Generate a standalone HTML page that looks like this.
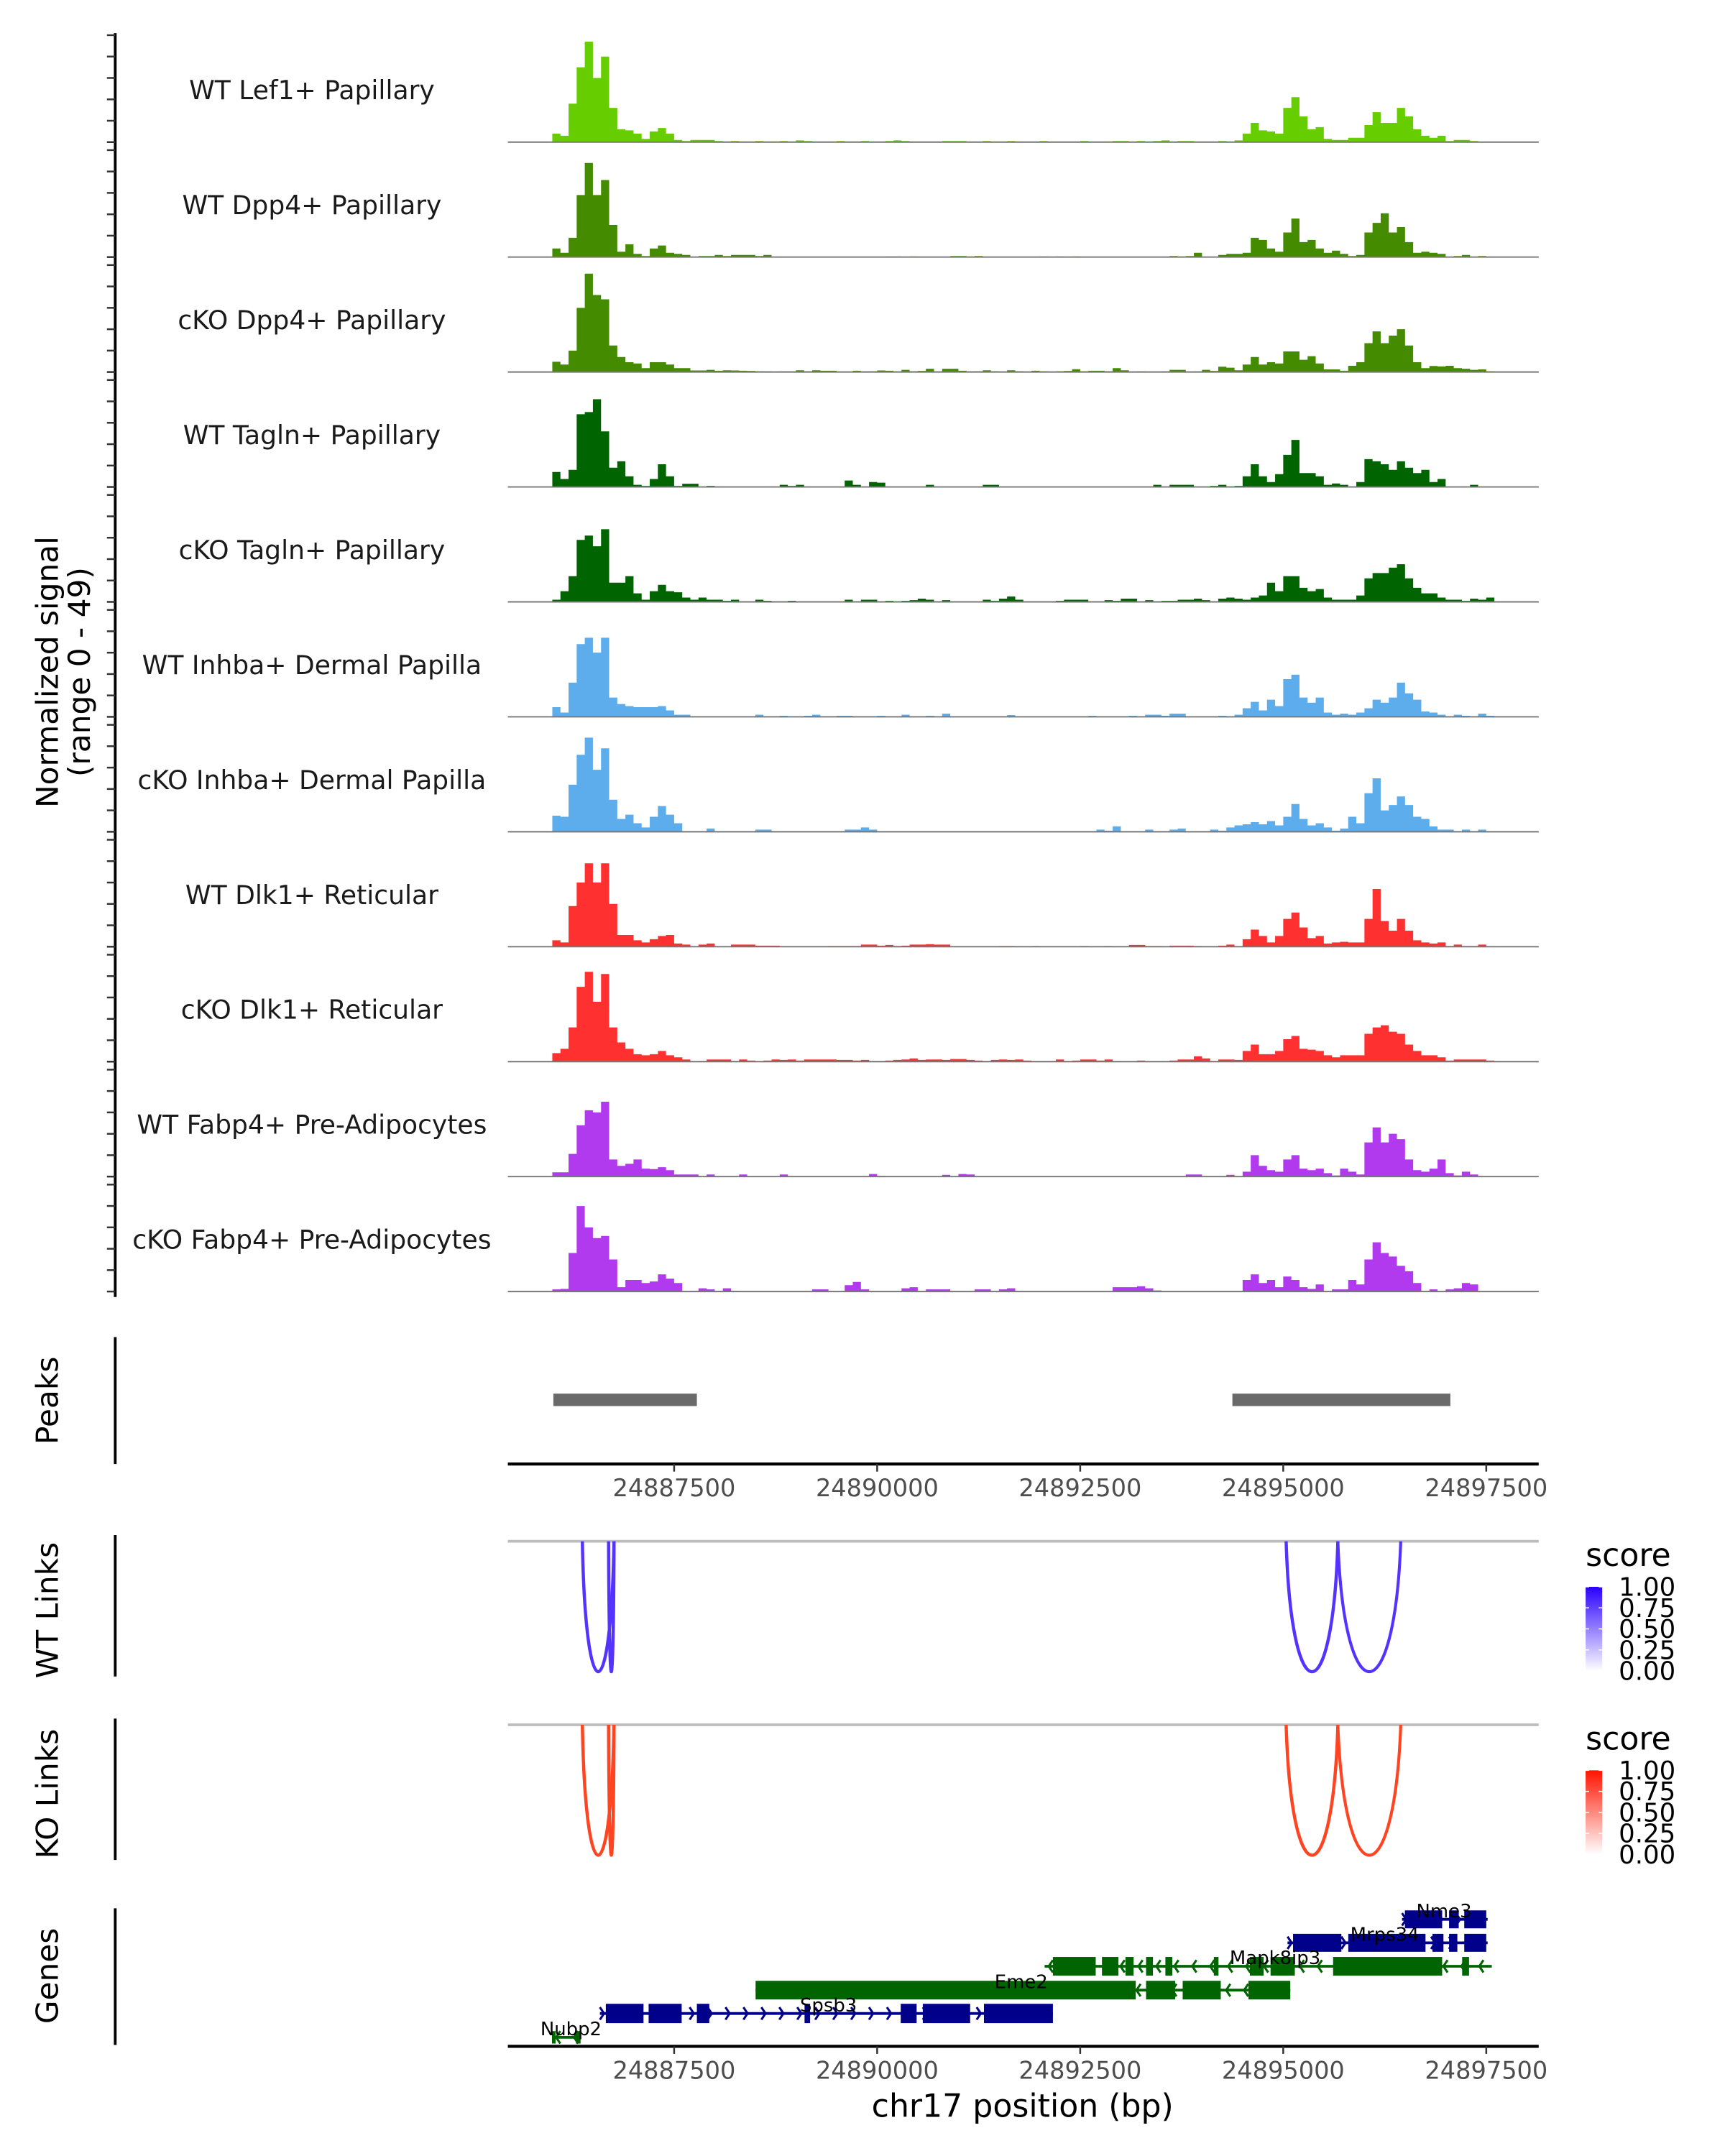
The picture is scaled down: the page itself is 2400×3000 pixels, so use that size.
<!DOCTYPE html>
<html><head><meta charset="utf-8"><title>Coverage plot chr17</title>
<style>
html,body{margin:0;padding:0;background:#fff;}
svg{display:block;font-family:"DejaVu Sans","Liberation Sans",sans-serif;}
</style></head>
<body>
<svg id="fig" xmlns="http://www.w3.org/2000/svg" width="2400" height="3000" viewBox="0 0 1250 1562.5">
<rect x="0" y="0" width="1250" height="1562.5" fill="#fff"/>
<g id="tracks"></g>
<g id="yaxis"></g>
<text transform="translate(42,487) rotate(-90)" text-anchor="middle" font-size="22" fill="#000">Normalized signal</text>
<text transform="translate(65,487) rotate(-90)" text-anchor="middle" font-size="22" fill="#000">(range 0 - 49)</text>
<g id="peaks"></g>
<g id="links"></g>
<g id="genes"></g>
<defs>
<linearGradient id="gWT" x1="0" y1="1" x2="0" y2="0"><stop offset="0" stop-color="#ffffff"/><stop offset="1" stop-color="#2a00ff"/></linearGradient>
<linearGradient id="gKO" x1="0" y1="1" x2="0" y2="0"><stop offset="0" stop-color="#ffffff"/><stop offset="1" stop-color="#ff1400"/></linearGradient>
</defs>
</svg>
<script>
// ---------- data ----------
const binStart = 24886000;
const binSize = 100;
const trackNames = ["WT Lef1+ Papillary","WT Dpp4+ Papillary","cKO Dpp4+ Papillary","WT Tagln+ Papillary","cKO Tagln+ Papillary","WT Inhba+ Dermal Papilla","cKO Inhba+ Dermal Papilla","WT Dlk1+ Reticular","cKO Dlk1+ Reticular","WT Fabp4+ Pre-Adipocytes","cKO Fabp4+ Pre-Adipocytes"];
const trackColors = ["#66cd00","#458b00","#458b00","#006400","#006400","#5dadec","#5dadec","#ff3030","#ff3030","#b23aee","#b23aee"];
const sigLef1WT = [4,3,18,35,47,30,40,16,6,5.5, 4,1.5,5,6.6,4,1,0.5,1,1,1, 0.5,0.3,0.5,0.3,0.3,0.5,0.3,0.3,0.5,0.3, 0.8,0.5,0.3,0.3,0.3,0.5,0.3,0.3,0.5,0.3, 0.3,0.5,0.8,0.5,0.3,0.3,0.3,0.3,0.5,0.5, 0.5,0.3,0.3,0.5,0.3,0.3,0.5,0.3,0.3,0.3, 0.5,0.3,0.3,0.3,0.3,0.5,0.3,0.3,0.3,0.5, 0.5,0.3,0.5,0.3,0.5,0.8,0.3,0.5,0.5,0.3, 0.3,0.3,0.5,0.3,0.8,4,9,5.5,5,4, 16,21,12,6,7,1.5,1,1,2,2, 8,14,9,9,16,12,6,3,2,3, 0.5,1,1,0.5,0,0];
const sigDpp4WT = [4,2,9,29,44,29,36,15,2.5,6, 1.5,0.5,4,5.4,2,1.5,1,0,0.5,0.5, 1,0.5,1,1,1,0.5,1,0,0,0, 0,0,0,0,0,0,0,0,0,0, 0,0.3,0.3,0,0.3,0,0,0,0,0.5, 0.5,0.3,0.5,0,0,0,0,0,0,0, 0.3,0,0.3,0,0.3,0,0,0,0,0, 0,0,0,0,0,0,0.5,0.3,0.5,2, 0,0,1,1.5,1.5,2,9,8,4,2.5, 11.5,18,7,8,4,2,3,1.5,0.5,1, 11.5,16,20.5,11.5,14,7,2,2.5,2,1.5, 0,0.5,1,0,0.5,0];
const sigDpp4KO = [4.8,3.5,10,30,46,36,34,12.4,7,4.6, 4,1.8,4.6,4.6,3.5,1.8,1.8,0.7,0.7,1, 0.6,0.8,0.7,0.6,0.5,0.4,0.3,0.2,0.3,0.3, 0.8,0.4,0.8,0.6,0.6,0.2,0,0.6,0.3,0.4, 0.7,0.6,0.3,1,0.4,0.5,1.5,0.3,1.5,1.5, 0.6,0.3,0.4,0.8,0.4,0.2,0.8,0.4,0.2,0.6, 0.4,0.1,0.4,0.5,1.3,0.4,0.6,0.6,0.4,1.8, 0.8,0.2,0.3,0.1,0,0.3,1,1,0.2,0.3, 1,0.5,2.5,2,0.8,3.5,7,3.5,4.6,4, 9.6,9.6,5.7,7.4,4,1.2,1.2,0.6,2.9,4.6, 13.5,19,13.5,17,20,12.4,4.6,1.8,2.8,2.6, 2.9,1.8,1.5,1,1.2,0.4];
const sigTaglnWT = [7,3.7,8,34,35,41,26,9,12,5, 1,0.5,3.7,10.6,5,0.5,1.5,1.5,0,0.5, 0,0,0,0,0,0,0,0,1,0.5, 1,0,0,0,0,0,3,1,0,2.3, 2,0,0,0,0,0,1,0,0,0, 0,0,0,1,1,0,0,0,0,0, 0,0,0,0,0,0,0,0,0,0, 0,0,0,0,1,0,1,1,1,0, 0,0.5,1,0,0.5,5,10.6,5,2.3,6, 15,22,6.5,6.5,5,1,1.6,1,0,2.3, 13,12,10.6,8,12,9,6.5,8,2.3,3.7, 0,0,0,1,0,0];
const sigTaglnKO = [1,5,12,29,31,26,34,9,9,12, 4,1,5,8,5,4.5,2,1,2,1, 1,0.5,1,0.3,0.3,1,0.5,0.3,0,0.5, 0.2,0.2,0.2,0.2,0.2,0.3,1,0.3,1,1, 0.3,0.5,0.3,0.5,0.8,1.5,1,0.3,0.8,0.3, 0,0,0,1,0.5,1.5,2.5,1,0,0, 0,0,0.5,1,1,1,0.3,0.3,0.8,0.5, 1.5,1.5,0.3,0.8,0.3,0.5,0.5,1,1,1.5, 0.8,0.3,1.5,2,1.5,1,2,3,9,5, 12,12,6.6,5,6,2,1,1,1,3, 11,13.5,13.5,16,17.6,11,6.6,4,4,2, 1,1,0.5,1.5,1,2];
const sigInhbaWT = [4.5,2,16,34,37,30,37,9,6,5, 4.5,4.5,4.5,5,3,1,1,0,0,0.3, 0,0,0,0,0,1,0.3,0,0.5,0, 0,0.5,1,0,0,0.5,0.5,0,0,0, 0.5,0,0,1,0,0,0.5,0,1.5,0.3, 0,0,0,0,0,0,0.8,0,0,0, 0,0,0,0,0,0,0.5,0,0,0, 0,0.5,0,1,1,0.5,1.5,1.5,0,0, 0,0,0.5,0,1,4,7,3,8,5, 17.6,19.7,9,6.6,9,2,1,1.5,1,2, 4,8,6.6,9,16,11,8,2.5,2,1, 0.3,1,0.5,0.3,1.5,0.5];
const sigInhbaKO = [7.5,7,22,36,44,29,39,15,6,8, 4,2,7,12,8,4,0,0,0,1.5, 0,0,0,0,0,1,1,0,0,0, 0,0,0,0,0,0,1,1,2,1, 0,0,0,0,0,0,0,0,0,0, 0,0,0,0,0,0,0,0,0,0, 0,0,0,0,0,0,0,1,0.5,2.5, 0,0,0,1,0,0,1,1.5,0,0, 0,1,0.5,2,3,3.5,4.5,3.5,5,3, 7,13,6,3,4,2,0.5,1.5,7,4, 18,25,10,12.5,16.5,12.5,7,6,2.5,1, 1,0,1,0,1,0];
const sigDlk1WT = [3,2,19,30,39,30,39,20,5.5,5.5, 3,2,3.5,5,5.5,1.5,1,0,1,1.5, 0,0,1,1,1,0.5,0.5,0.5,0,0, 0,0,0,0,0.3,0.3,0.3,0.3,1,1, 0.5,0.8,0.3,0.5,1,1,1.2,1,1,0, 0,0,0,0,0,0.3,0.3,0,0,0.3, 0,0,0,0,0,0.3,0,0,0.3,0, 0,0.8,0.8,0.3,0.3,0,0.5,0.5,0.5,0.3, 0,0,0.5,1,0,3.5,8,5,2,5, 13,16,9,4,5,1.5,2,2.3,2,2, 13,27,12,7.5,13,7.5,3,2,1.5,2, 0.3,1,0.3,0.3,1,0];
const sigDlk1KO = [4,6,16,35,42,28,41,16,9,6, 3.5,3,3.5,5,3,2,1,0,0.3,1, 1,1,0.3,1,0.5,0,0.5,1,0.8,1, 0.5,1,1,1,1,0.8,0.8,0.5,0.8,0.3, 0.3,0.5,0.8,1,1.5,0.8,1,1,0.8,1.2, 1.2,0.8,0.5,0.3,0.8,1,0.8,1,0.5,0.3, 0.3,0.3,1,0.3,0.5,1,1,0.5,1,0.3, 0,0,0.5,0,0,0,0.5,1,1,2.5, 1.5,0.3,1,1,0.8,5,8,3.5,3.5,5, 10.5,12,6,5.6,5,3,2,3,3,3, 13,16,17,14,13,8,5,3,3,2, 0.5,1,1,1,1,0.5];
const sigFabp4WT = [2,2,10.6,24,31,30,35,8,5,6, 8,3.7,3.5,4.4,3,1,1,1,0,1, 0,0,0,1,0,0,0,0,1,0, 0,0,0,0,0,0,0,0,0,1.2, 0.3,0,0,0,0,0,0,0,0.8,0, 1.2,1,0,0,0,0,0,0,0,0, 0,0,0,0,0,0,0,0,0,0, 0,0,0,0,0,0,0,0,1,1, 0,0,0,0.8,0,2.3,10,5,3,2.3, 8,10,3.7,3,3.7,1.6,0.5,3.7,2.3,1, 16,23,16,20,17.5,8,3,2.3,3.7,8, 1.6,0.5,2.3,1,0,0];
const sigFabp4KO = [1,1.2,18,40,30,25,26,15,2,5.4, 5.4,4,4.7,8,6,4,0,0.3,1.5,1, 0.3,1.5,0.3,0,0,0,0,0,0,0, 0,0,1,1,0,0,3,4.5,1,0, 0,0,0,1.5,2,0,1,1,1,0, 0,0,1,1,0,1,1.5,0,0,0, 0,0,0,0,0,0,0,0,0,2, 2,2,2.5,1.5,0.5,0,0,0,0,0, 0,0,0,0,0,5.4,8,4,5.4,2, 7,5.4,2,1.2,3.3,0,1,1,5.4,3.3, 15,23,18,16.4,12,9.5,4,0,1,0, 1,1.5,4,3.3,0,0];
const trackSignals = [sigLef1WT,sigDpp4WT,sigDpp4KO,sigTaglnWT,sigTaglnKO,sigInhbaWT,sigInhbaKO,sigDlk1WT,sigDlk1KO,sigFabp4WT,sigFabp4KO];
const yTickValues = [0,10,20,30,40,50];
const xTickValues = [24887500,24890000,24892500,24895000,24897500];
const xTickLabels = ["24887500","24890000","24892500","24895000","24897500"];
const peakStarts = [24886013,24894374];
const peakEnds = [24887780,24897058];
const linkStarts = [24886370,24886693,24895036,24895673];
const linkEnds = [24886760,24886760,24895673,24896447];
const wtLinkScores = [0.95,0.95,0.95,0.85];
const koLinkScores = [0.95,0.95,0.95,0.85];
const legendValues = [0,0.25,0.5,0.75,1];
const legendLabels = ["0.00","0.25","0.50","0.75","1.00"];
const geneNames = ["Nme3","Mrps34","Mapk8ip3","Eme2","Spsb3","Nubp2"];
const geneStrands = ["+","+","-","-","+","-"];
const geneStarts = [24896463,24895053,24892062,24888503,24886586,24885996];
const geneEnds = [24897517,24897517,24897568,24895087,24892164,24886348];
const geneExons = [
 [[24896498,24896957],[24897042,24897161],[24897229,24897500]],
 [[24895121,24895716],[24895801,24896752],[24896837,24896973],[24897042,24897144],[24897229,24897500]],
 [[24892164,24892691],[24892768,24892971],[24893057,24893158],[24893311,24893396],[24893549,24893634],[24894146,24894203],[24894589,24894759],[24894844,24895143],[24895614,24896957],[24897203,24897288]],
 [[24888503,24893184],[24893311,24893670],[24893762,24894231],[24894572,24895087]],
 [[24886659,24887123],[24887186,24887593],[24887780,24887933],[24889106,24889174],[24890290,24890486],[24890562,24891145],[24891315,24892164]],
 [[24885996,24886040],[24886290,24886348]]
];
const geneLabelPos = [24896980,24896250,24894900,24891773,24889400,24886230];

// ---------- layout helpers ----------
const NS = "http://www.w3.org/2000/svg";
const xs = bp => 488.5 + (bp - 24887500) * 0.05885;
const PX_PER_UNIT = 1.55;
const baseline = k => 103 + 83.3 * k;
function mk(tag, attrs, parent){ const e=document.createElementNS(NS,tag); for(const k in attrs) e.setAttribute(k,attrs[k]); parent.appendChild(e); return e; }

// ---------- signal tracks ----------
const gT = document.getElementById('tracks');
trackSignals.forEach((vals,k)=>{
  const b = baseline(k);
  let d = `M${xs(binStart).toFixed(2)},${b}`;
  vals.forEach((v,i)=>{
    const x0 = xs(binStart + i*binSize), x1 = xs(binStart + (i+1)*binSize);
    const y = b - v*PX_PER_UNIT;
    d += `L${x0.toFixed(2)},${y.toFixed(2)}L${x1.toFixed(2)},${y.toFixed(2)}`;
  });
  d += `L${xs(binStart + vals.length*binSize).toFixed(2)},${b}Z`;
  const area = mk('path',{d:d, fill:trackColors[k], stroke:'none'},gT);
  
  
  const bl = mk('line',{x1:368,x2:1115,y1:b,y2:b,stroke:'#777','stroke-width':1},gT);
  
  
  const lab = mk('text',{x:226,y:b-31,'text-anchor':'middle','font-size':18.8,fill:'#1a1a1a'},gT);
  lab.textContent = trackNames[k];
  
  
});

// ---------- y axis ----------
const gY = document.getElementById('yaxis');
const yl = mk('line',{x1:83.5,x2:83.5,y1:24,y2:940,stroke:'#000','stroke-width':2},gY);


trackSignals.forEach((v,k)=>{
  const b = baseline(k);
  yTickValues.forEach(t=>{
    const y = b - t*PX_PER_UNIT;
    const tk = mk('line',{x1:77.5,x2:83.5,y1:y,y2:y,stroke:'#333','stroke-width':1.3},gY);
    
    
  });
});

// ---------- x axis helper ----------
function xAxis(parent, yLine, name){
  const al = mk('line',{x1:368,x2:1115,y1:yLine,y2:yLine,stroke:'#000','stroke-width':2.2},parent);
  
  
  xTickValues.forEach((t,i)=>{
    const x = xs(t);
    const tk = mk('line',{x1:x,x2:x,y1:yLine,y2:yLine+5.5,stroke:'#333','stroke-width':1.3},parent);
    
    
    const tl = mk('text',{x:x,y:yLine+23.5,'text-anchor':'middle','font-size':17.5,fill:'#4d4d4d'},parent);
    tl.textContent = xTickLabels[i];
    
    
  });
}

// ---------- peaks ----------
const gP = document.getElementById('peaks');
const pAx = mk('line',{x1:83.5,x2:83.5,y1:969,y2:1061,stroke:'#000','stroke-width':2},gP);


const pT = mk('text',{transform:'translate(42,1015) rotate(-90)','text-anchor':'middle','font-size':22,fill:'#000'},gP);
pT.textContent = 'Peaks';


peakStarts.forEach((s,i)=>{
  const r = mk('rect',{x:xs(s),y:1010,width:xs(peakEnds[i])-xs(s),height:9,fill:'#6a6a6a'},gP);
  
  
});
xAxis(gP, 1061, 'peaks-x-axis');

// ---------- links ----------
const gL = document.getElementById('links');
function linkPanel(top, title, scores, color, grad, tag){
  const depth = 94.5;
  const ax = mk('line',{x1:83.5,x2:83.5,y1:top-4.5,y2:top+98,stroke:'#000','stroke-width':2},gL);
  
  
  const t = mk('text',{transform:`translate(42,${top+50}) rotate(-90)`,'text-anchor':'middle','font-size':22,fill:'#000'},gL);
  t.textContent = title;
  
  
  const gl = mk('line',{x1:368,x2:1115,y1:top,y2:top,stroke:'#bdbdbd','stroke-width':2},gL);
  
  
  linkStarts.forEach((s,i)=>{
    const x1 = xs(s), x2 = xs(linkEnds[i]), w = x2-x1;
    const cy = top + depth*4/3;
    const d = `M${x1},${top-6} L${x1},${top} C${x1+w*0.1},${cy} ${x2-w*0.1},${cy} ${x2},${top} L${x2},${top-6}`;
    const p = mk('path',{d:d,fill:'none',stroke:color,'stroke-width':0.8+scores[i]*1.6,'clip-path':`url(#clip-${tag})`},gL);
    
    
  });
  const cp = mk('clipPath',{id:'clip-'+tag},gL);
  mk('rect',{x:360,y:top,width:760,height:120},cp);
  const lt = mk('text',{x:1149,y:top+18,'font-size':23,fill:'#000'},gL);
  lt.textContent = 'score';
  
  
  const barTop = top+33, barH = 61;
  const bar = mk('rect',{x:1149,y:barTop,width:12,height:barH,fill:`url(#${grad})`},gL);
  
  
  legendValues.forEach((v,i)=>{
    const y = barTop + barH*(1-v);
    mk('line',{x1:1149,x2:1151.5,y1:y,y2:y,stroke:'#fff','stroke-width':0.8},gL);
    mk('line',{x1:1158.5,x2:1161,y1:y,y2:y,stroke:'#fff','stroke-width':0.8},gL);
    const tx = mk('text',{x:1173,y:y+6.5,'font-size':18.5,fill:'#000'},gL);
    tx.textContent = legendLabels[i];
    
    
  });
}
linkPanel(1117,'WT Links',wtLinkScores,'#5533ff','gWT','wt-links');
linkPanel(1250,'KO Links',koLinkScores,'#ff4422','gKO','ko-links');

// ---------- genes ----------
const gG = document.getElementById('genes');
const gAx = mk('line',{x1:83.5,x2:83.5,y1:1383,y2:1482,stroke:'#000','stroke-width':2},gG);


const gTt = mk('text',{transform:'translate(42,1432) rotate(-90)','text-anchor':'middle','font-size':22,fill:'#000'},gG);
gTt.textContent = 'Genes';


const rowY = [1391,1408,1425,1442.3,1459.2,1476.5];
const rowH = [13,13,13.5,13.5,14,9];
const labels = [];
geneNames.forEach((g,i)=>{
  const col = geneStrands[i]==='+' ? '#00008b' : '#006400';
  const cy = rowY[i];
  const grp = mk('g',{},gG);
  
  
  const x1 = xs(geneStarts[i]), x2 = xs(geneEnds[i]);
  mk('line',{x1:x1,x2:x2,y1:cy,y2:cy,stroke:col,'stroke-width':2},grp);
  for(let x = x1+3; x < x2-1; x += 13){
    const dx = geneStrands[i]==='+' ? 3 : -3;
    mk('polyline',{points:`${x-dx},${cy-4.5} ${x},${cy} ${x-dx},${cy+4.5}`,fill:'none',stroke:col,'stroke-width':1.6},grp);
  }
  geneExons[i].forEach(e=>{
    mk('rect',{x:xs(e[0]),y:cy-rowH[i]/2,width:Math.max(1.5,xs(e[1])-xs(e[0])),height:rowH[i],fill:col},grp);
  });
  labels.push([g, xs(geneLabelPos[i]), cy - 1.5]);
});
labels.forEach(l=>{
  const t = mk('text',{x:l[1],y:l[2],'text-anchor':'middle','font-size':13.5,fill:'#000'},gG);
  t.textContent = l[0];
  
  
});
xAxis(gG, 1483, 'genes-x-axis');
const xt = mk('text',{x:741,y:1534,'text-anchor':'middle','font-size':23,fill:'#000'},gG);
xt.textContent = 'chr17 position (bp)';


</script>
</body></html>
